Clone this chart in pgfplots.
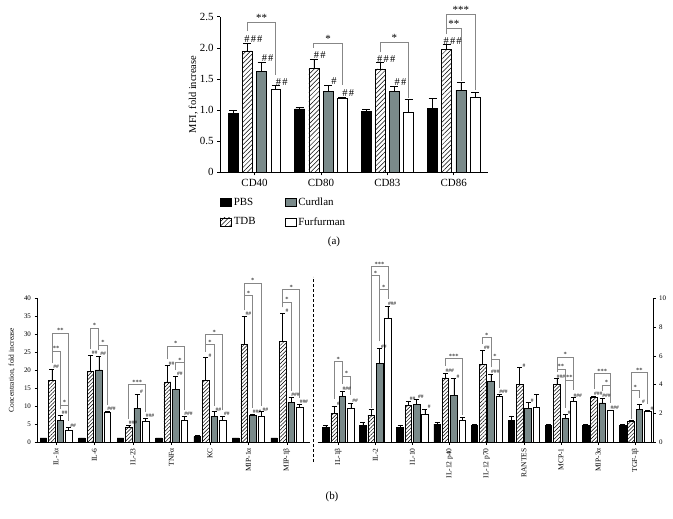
\documentclass[border=0pt]{standalone}
\usepackage{pgfplots}
\pgfplotsset{compat=1.18}
\usepackage{pgfplotstable}
\usetikzlibrary{patterns.meta}
\usepackage{fontspec}
\setmainfont{Liberation Serif}

\definecolor{curd}{RGB}{122,138,138}
\definecolor{brkc}{RGB}{135,135,135}

\def\hhsep{}
\newcommand{\hh}[1]{\ifcase#1\or\#\or\#\hhsep\#\or\#\hhsep\#\hhsep\#\fi}
\newcommand{\brk}[6]{\draw[brkline] (axis cs:#1,#2) |- (axis cs:#3,#5) node[brklabel,pos=0.75] {#6} -- (axis cs:#3,#4);}

\pgfplotsset{
  sq/.style={/pgfplots/legend image code/.code={\draw[##1] (0bp,-4.2bp) rectangle (11bp,4.2bp);}},
  pbsst/.style={fill=black, draw=black, line width=0.6bp, sq},
  tdbst/.style={fill=white, draw=black, line width=0.6bp, postaction={pattern={Lines[angle=45,distance=#1,line width=0.5bp]}}, sq},
  curst/.style={fill=curd, draw=black, line width=0.6bp, sq},
  furst/.style={fill=white, draw=black, line width=0.6bp, sq},
}

% #1 table, #2 inner shift, #3 outer shift, #4 hatch distance
\newcommand{\bars}[4]{%
\addplot[pbsst, bar shift=-#3, error bars/.cd, y dir=plus, y explicit] table[x=x,y=pbs,y error=pbse]{#1};
\addplot[tdbst=#4, bar shift=-#2, error bars/.cd, y dir=plus, y explicit] table[x=x,y=tdb,y error=tdbe]{#1};
\addplot[curst, bar shift=#2, error bars/.cd, y dir=plus, y explicit] table[x=x,y=cur,y error=cure]{#1};
\addplot[furst, bar shift=#3, error bars/.cd, y dir=plus, y explicit] table[x=x,y=fur,y error=fure]{#1};
\addplot[forget plot, sharp plot, draw=none, mark=none, nodes near coords={\hh{\pgfplotspointmeta}}, point meta=explicit symbolic] table[x expr=\thisrow{x}-#2, y expr=\thisrow{tdb}+\thisrow{tdbe}, meta=nt]{#1};
\addplot[forget plot, sharp plot, draw=none, mark=none, nodes near coords={\hh{\pgfplotspointmeta}}, point meta=explicit symbolic] table[x expr=\thisrow{x}+#2, y expr=\thisrow{cur}+\thisrow{cure}, meta=nc]{#1};
\addplot[forget plot, sharp plot, draw=none, mark=none, nodes near coords={\hh{\pgfplotspointmeta}}, point meta=explicit symbolic] table[x expr=\thisrow{x}+#3, y expr=\thisrow{fur}+\thisrow{fure}, meta=nf]{#1};
}

\pgfplotstableread{
x pbs pbse tdb tdbe cur cure fur fure nt nc nf
0 0.94 0.06 1.95 0.13 1.62 0.15 1.34 0.05 3 2 2
1 1.02 0.03 1.67 0.15 1.30 0.10 1.19 0.02 2 1 2
2 0.98 0.03 1.66 0.10 1.30 0.08 0.96 0.21 3 2 0
3 1.03 0.16 1.98 0.07 1.32 0.12 1.21 0.08 3 0 0
}\cdA

\pgfplotstableread{
x pbs pbse tdb tdbe cur cure fur fure nt nc nf
0 1.2 0.0 17.2 3.2 6.0 1.6 3.4 0.7 2 2 2
1 1.2 0.0 19.6 4.6 20.1 3.9 8.4 0.2 2 2 3
2 1.2 0.0 4.3 0.5 9.5 3.9 5.8 0.9 3 1 3
3 1.2 0.0 16.8 4.5 14.6 3.7 6.2 1.0 2 2 3
4 1.6 0.4 17.1 6.4 7.2 1.3 6.2 1.0 1 2 2
5 1.2 0.0 27.1 7.9 7.4 0.5 7.1 1.4 2 3 2
6 1.2 0.0 28.1 7.7 11.1 1.5 9.6 1.1 1 3 3
}\cyL

\pgfplotstableread{
x pbs pbse tdb tdbe cur cure fur fure nt nc nf
0 1.06 0.12 2.00 0.50 3.20 0.35 2.37 0.37 1 3 2
1 1.20 0.16 1.89 0.39 5.46 1.04 8.62 0.83 0 2 3
2 1.04 0.11 2.58 0.30 2.65 0.35 1.96 0.32 2 2 1
3 1.27 0.09 4.47 0.34 3.27 1.15 1.54 0.23 3 1 0
4 1.15 0.12 5.39 0.99 4.24 0.48 3.20 0.14 2 3 3
5 1.52 0.32 4.00 1.19 2.37 0.39 2.40 0.92 1 1 0
6 1.20 0.05 4.00 0.42 1.66 0.27 2.88 0.23 3 1 3
7 1.20 0.03 3.13 0.07 2.74 0.32 2.21 0.04 3 3 3
8 1.20 0.05 1.43 0.09 2.26 0.39 2.17 0.03 0 1 1
}\cyR

\begin{document}
\begin{tikzpicture}
\useasboundingbox (0,0) rectangle (673bp,519bp);

% ---------- panel (a)
\begin{axis}[
  at={(220bp,346.7bp)}, anchor=south west,
  scale only axis, width=268.3bp, height=155.6bp,
  xmin=-0.52, xmax=3.52, ymin=0, ymax=2.5,
  axis x line*=bottom, axis y line*=left,
  axis line style={line width=0.6bp},
  ybar, bar width=0.15, clip=false,
  xtick={0,1,2,3}, xticklabels={CD40,CD80,CD83,CD86},
  ytick={0,0.5,1,1.5,2,2.5}, yticklabels={0,0.5,1.0,1.5,2.0,2.5},
  tick align=outside, major tick length=3bp,
  tick style={line width=0.6bp, black},
  tick label style={font=\fontsize{11}{12}\selectfont},
  ylabel={MFI, fold increase},
  ylabel style={at={(axis description cs:-0.1,0.5)}, anchor=center, font=\fontsize{10.5}{12}\selectfont},
  error bars/error bar style={line width=0.6bp, black},
  error bars/error mark options={rotate=90, mark size=4bp, line width=0.6bp, black},
  nodes near coords style={anchor=south, inner sep=0.5bp, font=\fontsize{10.5}{11}\selectfont, text=black, /utils/exec={\def\hhsep{\kern1.2bp}}},
  /tikz/brkline/.style={draw=brkc, line width=0.7bp},
  /tikz/brklabel/.style={anchor=south, inner sep=0.5bp, font=\fontsize{11}{11}\selectfont, text=black},
  legend columns=2, transpose legend,
  legend style={at={(axis description cs:0,-0.15)}, anchor=north west, draw=none, fill=none,
    inner sep=0pt, font=\fontsize{11}{12}\selectfont, row sep=6.5bp,
    /tikz/every even column/.append style={column sep=27bp}},
  legend cell align=left,
]
\bars{\cdA}{0.107}{0.32}{3.2bp}
\legend{PBS,TDB,Curdlan,Furfurman}
\brk{-0.107}{2.27}{0.32}{1.56}{2.41}{**}
\brk{0.893}{2.0}{1.32}{1.40}{2.07}{*}
\brk{1.893}{1.93}{2.32}{1.2}{2.08}{*}
\brk{2.893}{2.22}{3.107}{1.47}{2.32}{**}
\brk{2.893}{2.22}{3.32}{1.32}{2.54}{***}
\end{axis}

% ---------- panel (b) left
\begin{axis}[
  at={(37bp,76.7bp)}, anchor=south west,
  scale only axis, width=273bp, height=144bp,
  xmin=-0.495, xmax=6.6, ymin=0, ymax=40,
  axis x line*=bottom, axis y line*=left,
  axis line style={line width=0.6bp},
  ybar, bar width=0.17, clip=false,
  xtick={0,...,6}, xticklabels={IL-1α,IL-6,IL-23,TNFα,KC,MIP-1α,MIP-1β},
  xticklabel style={rotate=90, anchor=east, font=\fontsize{7.5}{8}\selectfont},
  ytick={0,5,...,40},
  /pgf/number format/assume math mode=true,
  yticklabel style={font=\fontsize{7}{8}\selectfont},
  tick align=outside, major tick length=2.5bp,
  tick style={line width=0.6bp, black},
  ylabel={Concentration, fold increase},
  ylabel style={at={(axis description cs:-0.092,0.5)}, anchor=center, font=\fontsize{7.5}{9}\selectfont},
  error bars/error bar style={line width=0.5bp, black},
  error bars/error mark options={rotate=90, mark size=2.5bp, line width=0.5bp, black},
  nodes near coords style={anchor=south, inner sep=0.3bp, font=\fontsize{5.5}{6}\selectfont, text=black},
  /tikz/brkline/.style={draw=brkc, line width=0.6bp},
  /tikz/brklabel/.style={anchor=south, inner sep=0.3bp, font=\fontsize{6.5}{7}\selectfont, text=black},
]
\bars{\cyL}{0.11}{0.33}{2.6bp}
\brk{-0.11}{22.0}{0.33}{6.0}{30.3}{**}
\brk{-0.11}{22.0}{0.11}{9.3}{25.4}{**}
\brk{0.11}{9.3}{0.33}{6.0}{10.3}{*}
\brk{0.89}{25.9}{1.11}{25.7}{31.7}{*}
\brk{1.11}{25.7}{1.33}{10.3}{27.0}{*}
\brk{1.89}{6.5}{2.33}{8.4}{16.0}{***}
\brk{2.89}{23.0}{3.33}{9.0}{26.6}{*}
\brk{3.11}{20.0}{3.33}{9.0}{22.1}{*}
\brk{3.89}{25.2}{4.11}{10.2}{27.1}{*}
\brk{3.89}{25.2}{4.33}{9.0}{29.9}{*}
\brk{4.89}{36.7}{5.11}{9.6}{40.7}{*}
\brk{4.89}{36.7}{5.33}{10.2}{44.1}{*}
\brk{5.89}{37.5}{6.11}{14.3}{38.9}{*}
\brk{5.89}{37.5}{6.33}{12.4}{42.4}{*}
\end{axis}

% ---------- panel (b) right
\begin{axis}[
  at={(317.5bp,76.7bp)}, anchor=south west,
  scale only axis, width=335.5bp, height=144bp,
  xmin=-0.56, xmax=8.48, ymin=0, ymax=10,
  axis x line*=bottom, axis y line*=right,
  axis line style={line width=0.6bp},
  ybar, bar width=0.175, clip=false,
  xtick={0,...,8}, xticklabels={IL-1β,IL-2,IL-10,IL-12 p40,IL-12 p70,RANTES,MCP-1,MIP-3α,TGF-1β},
  xticklabel style={rotate=90, anchor=east, font=\fontsize{7.5}{8}\selectfont},
  ytick={0,2,...,10},
  /pgf/number format/assume math mode=true,
  yticklabel style={font=\fontsize{7}{8}\selectfont},
  tick align=outside, major tick length=2.5bp,
  tick style={line width=0.6bp, black},
  error bars/error bar style={line width=0.5bp, black},
  error bars/error mark options={rotate=90, mark size=2.5bp, line width=0.5bp, black},
  nodes near coords style={anchor=south, inner sep=0.3bp, font=\fontsize{5.5}{6}\selectfont, text=black},
  /tikz/brkline/.style={draw=brkc, line width=0.6bp},
  /tikz/brklabel/.style={anchor=south, inner sep=0.3bp, font=\fontsize{6.5}{7}\selectfont, text=black},
]
\bars{\cyR}{0.112}{0.336}{2.6bp}
\brk{-0.112}{3.0}{0.112}{4.05}{5.6}{*}
\brk{0.112}{4.05}{0.336}{3.25}{4.6}{*}
\brk{0.888}{2.4}{1.112}{7.0}{11.57}{*}
\brk{0.888}{2.4}{1.336}{9.95}{12.2}{***}
\brk{1.112}{7.0}{1.336}{9.95}{10.6}{*}
\brk{2.888}{5.3}{3.336}{1.9}{5.8}{***}
\brk{3.888}{6.85}{4.112}{5.2}{7.26}{*}
\brk{4.112}{5.2}{4.336}{3.8}{5.78}{*}
\brk{5.888}{4.9}{6.336}{3.6}{5.92}{*}
\brk{5.888}{4.9}{6.112}{2.4}{5.1}{**}
\brk{6.112}{2.4}{6.336}{3.6}{4.3}{**}
\brk{6.888}{3.7}{7.336}{2.7}{4.77}{***}
\brk{7.112}{3.55}{7.336}{2.7}{3.96}{*}
\brk{7.888}{1.65}{8.336}{2.65}{4.84}{**}
\brk{7.888}{1.65}{8.112}{3.1}{3.62}{*}
\end{axis}

\draw[line width=0.6bp, dash pattern=on 3bp off 2bp] (313.5bp,57.3bp) -- (313.5bp,242.3bp);
\node[font=\fontsize{11}{12}\selectfont] at (334bp,277.3bp) {(a)};
\node[font=\fontsize{11}{12}\selectfont] at (332bp,22bp) {(b)};
\end{tikzpicture}
\end{document}
